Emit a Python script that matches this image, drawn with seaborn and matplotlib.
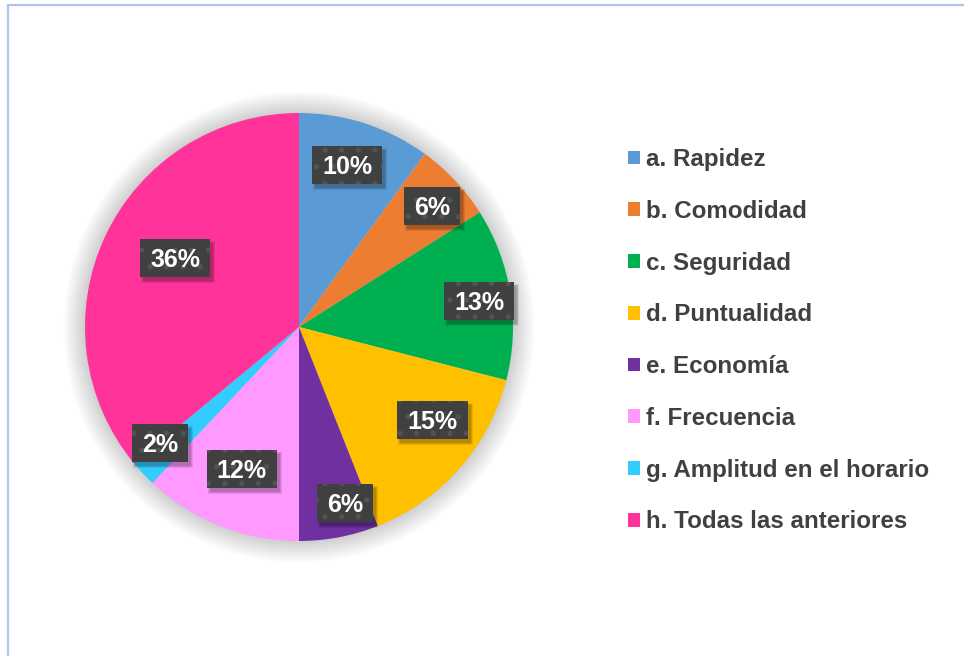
import numpy as np
import matplotlib
matplotlib.use("Agg")
import matplotlib.pyplot as plt
from matplotlib.lines import Line2D
from matplotlib.patches import Circle, Rectangle
from matplotlib.transforms import IdentityTransform
import seaborn as sns

# DATA

categories = [
    "a. Rapidez",
    "b. Comodidad",
    "c. Seguridad",
    "d. Puntualidad",
    "e. Economía",
    "f. Frecuencia",
    "g. Amplitud en el horario",
    "h. Todas las anteriores",
]
percentages = [10, 6, 13, 15, 6, 12, 2, 36]
slice_colors = ["#5B9BD5", "#ED7D31", "#00B050", "#FFC000",
                "#7030A0", "#FF99FF", "#33CCFF", "#FF3399"]

# label placement: distance from centre (fraction of radius) and
# angular shift from the wedge middle (degrees, clockwise)
label_dist = [0.79, 0.84, 0.85, 0.76, 0.85, 0.715, 0.846, 0.663]
label_shift = [-1.5, 0.9, 0.8, -6.6, -3.8, 0.3, 3.4, 3.9]

sns.set_theme(style="white")
plt.rcParams["font.family"] = ["Liberation Sans", "DejaVu Sans"]
plt.rcParams["hatch.linewidth"] = 1.4

W, H = 964, 656
fig = plt.figure(figsize=(W / 100, H / 100), dpi=100)

# outer chart frame (only top and left edges visible)
frame_color = "#AFC3EC"
fig.add_artist(Line2D([8 / W, 8 / W], [0, 1 - 5 / H], transform=fig.transFigure,
                      color=frame_color, lw=1.6))
fig.add_artist(Line2D([8 / W, 1], [1 - 5 / H, 1 - 5 / H], transform=fig.transFigure,
                      color=frame_color, lw=1.6))

# pie axes
cx, cy, r = 299, 327, 214
ax = fig.add_axes([(cx - r) / W, (H - cy - r) / H, 2 * r / W, 2 * r / H])
ax.axis("off")

wedges, _ = ax.pie(percentages, colors=slice_colors, startangle=90, counterclock=False,
                   radius=1, wedgeprops=dict(linewidth=0))
ax.set_xlim(-1, 1)
ax.set_ylim(-1, 1)
ax.set_aspect("equal")
for w in wedges:
    w.set_zorder(2)

# soft glow behind the pie
for rr in np.linspace(1.10, 1.005, 12):
    ax.add_patch(Circle((0, 0), rr, color="#000000", alpha=0.014, lw=0, zorder=0,
                        clip_on=False))

# data labels: dark boxes with soft shadow
fig.canvas.draw()
renderer = fig.canvas.get_renderer()
for w, pct, d, s in zip(wedges, percentages, label_dist, label_shift):
    mid = np.deg2rad((w.theta1 + w.theta2) / 2 - s)
    px, py = ax.transData.transform((d * np.cos(mid), d * np.sin(mid)))
    t = fig.text(px / W, (py - 9) / H, f"{pct}%", ha="center", va="baseline",
                 color="white", fontsize=18, fontweight="bold", zorder=6)
    tw = t.get_window_extent(renderer).width
    bw, bh = tw + 20, 38
    for k, a in enumerate([0.09, 0.10, 0.12]):
        grow = 2 - k
        fig.add_artist(Rectangle((px - bw / 2 + 3 - grow, py - bh / 2 - 4 - grow),
                                 bw + 2 * grow, bh + 2 * grow, transform=IdentityTransform(),
                                 facecolor="black", edgecolor="none", alpha=a, zorder=4))
    fig.add_artist(Rectangle((px - bw / 2, py - bh / 2), bw, bh, transform=IdentityTransform(),
                             facecolor="#404040", edgecolor="#535353", linewidth=0,
                             hatch=".", zorder=5))

# legend
handles = [plt.Rectangle((0, 0), 1, 1, facecolor=c, edgecolor="none") for c in slice_colors]
leg = fig.legend(handles, categories, loc="upper left",
                 bbox_to_anchor=(628 / W, 1 - 148 / H), frameon=False,
                 prop=dict(size=17.4, weight="bold"), labelcolor="#404040",
                 handlelength=0.5, handleheight=0.5, handletextpad=0.25,
                 labelspacing=1.19, borderaxespad=0, borderpad=0)

fig.savefig("out.png", dpi=100, facecolor="white")
